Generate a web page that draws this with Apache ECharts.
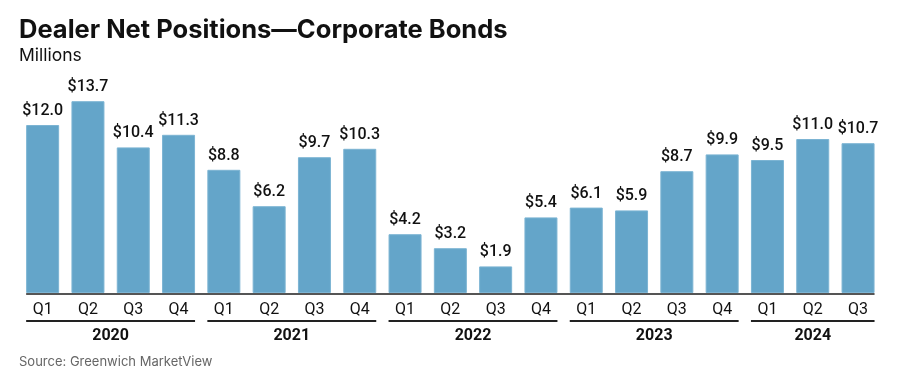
<!DOCTYPE html>
<html>
<head>
<meta charset="utf-8">
<script src="https://cdn.jsdelivr.net/npm/echarts@6/dist/echarts.min.js"></script>
<style>
html,body{margin:0;padding:0;background:#fff;}
#c{width:903px;height:384px;}
</style>
</head>
<body>
<div id="c"></div>
<script>
var quarters = ["Q1","Q2","Q3","Q4","Q1","Q2","Q3","Q4","Q1","Q2","Q3","Q4","Q1","Q2","Q3","Q4","Q1","Q2","Q3"];
var values = [12.0,13.7,10.4,11.3,8.8,6.2,9.7,10.3,4.2,3.2,1.9,5.4,6.1,5.9,8.7,9.9,9.5,11.0,10.7];
var years = ["2020","2021","2022","2023","2024"];
var yearStart = [0,4,8,12,16];
var yearEnd = [3,7,11,15,18];

var FONT = "Roboto, 'Liberation Sans', sans-serif";
var TFONT = "Inter, Roboto, sans-serif";
var BAR_W = 33;
var chart = echarts.init(document.getElementById('c'), null, {renderer:'canvas'});

var yearCenters = years.map(function(y,i){ return (yearStart[i]+yearEnd[i])/2; });

var option = {
  animation:false,
  backgroundColor:'#fff',
  title:[
    {text:'Dealer Net Positions\u2014Corporate Bonds', left:14, top:12,
     textStyle:{fontFamily:TFONT, fontSize:25.5, fontWeight:'bold', color:'#111'}},
    {text:'Millions', left:14, top:42,
     textStyle:{fontFamily:TFONT, fontSize:17.5, fontWeight:'normal', color:'#111'}},
    {text:'Source: Greenwich MarketView', left:14, top:351,
     textStyle:{fontFamily:TFONT, fontSize:13, fontWeight:'normal', color:'#666'}}
  ],
  grid:{left:20, right:22.3, top:83, bottom:91, containLabel:false},
  xAxis:[
    {type:'category', data:quarters, gridIndex:0,
     axisLine:{show:false}, axisTick:{show:false},
     axisLabel:{fontFamily:FONT, fontSize:16, color:'#111', margin:9}},
    {type:'value', position:'bottom', min:-0.5, max:18.5, gridIndex:0,
     axisLine:{show:false}, axisTick:{show:false}, splitLine:{show:false},
     axisLabel:{customValues:yearCenters, fontFamily:FONT, fontSize:16, fontWeight:'bold', color:'#111', margin:35,
       formatter:function(v){ var i=yearCenters.indexOf(v); return i>=0?years[i]:''; }}}
  ],
  yAxis:{type:'value', min:0, max:15, show:false, splitLine:{show:false}},
  series:[{
    type:'bar', data:values, barWidth:BAR_W, xAxisIndex:0,
    itemStyle:{color:'#64a5c9', borderColor:'#7cb4d3', borderWidth:1},
    label:{show:true, position:'top', distance:6, fontFamily:FONT, fontSize:16, fontWeight:500, color:'#111',
      formatter:function(p){ return '$'+p.value.toFixed(1); }}
  }]
};
chart.setOption(option);

function px(idx){ return chart.convertToPixel({xAxisIndex:0}, idx); }
var baseY = chart.convertToPixel({yAxisIndex:0}, 0);
var g = [];
g.push({type:'line', shape:{x1:px(0)-BAR_W/2, y1:baseY+1, x2:px(values.length-1)+BAR_W/2, y2:baseY+1},
  style:{stroke:'#555', lineWidth:2}});
for (var i=0;i<years.length;i++){
  var y = baseY+28;
  g.push({type:'line', shape:{x1:px(yearStart[i])-BAR_W/2, y1:y, x2:px(yearEnd[i])+BAR_W/2, y2:y},
    style:{stroke:'#222', lineWidth:2}});
}
chart.setOption({graphic:g});
</script>
</body>
</html>
